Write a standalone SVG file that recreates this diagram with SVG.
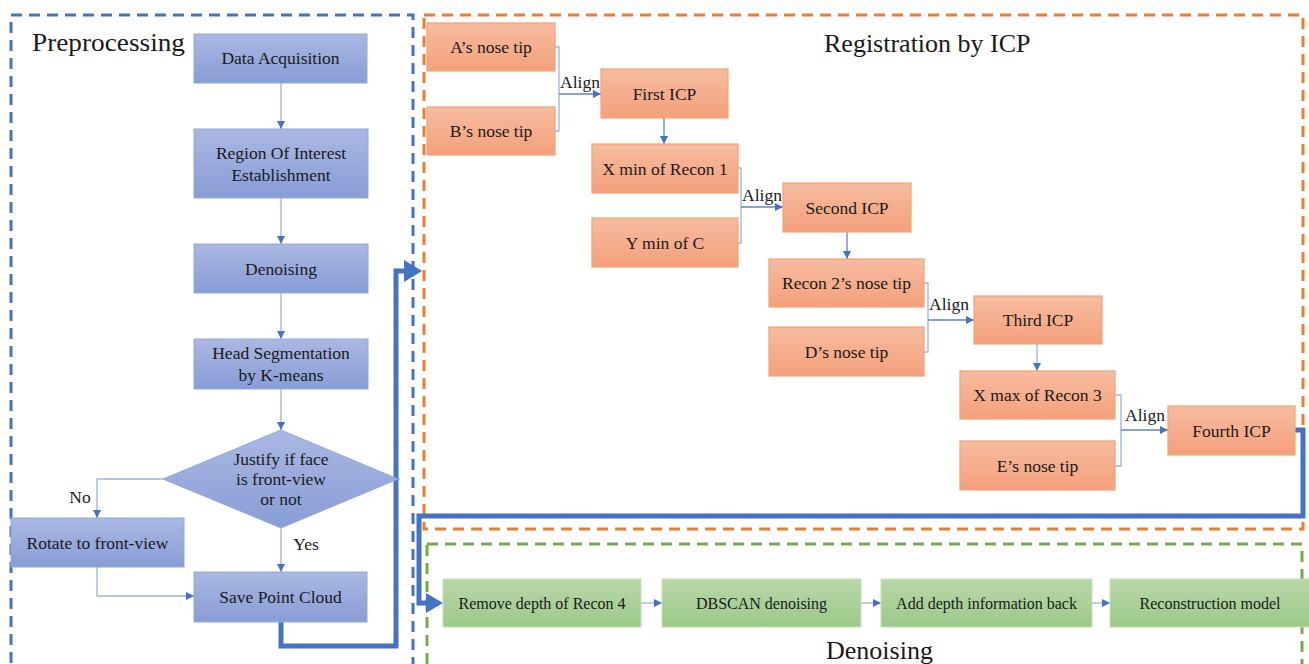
<svg xmlns="http://www.w3.org/2000/svg" width="1309" height="664" viewBox="0 0 1309 664">
<defs>
<linearGradient id="gBlue" x1="0" y1="0" x2="0" y2="1"><stop offset="0" stop-color="#aab8e3"/><stop offset="1" stop-color="#889dd6"/></linearGradient>
<linearGradient id="gOrange" x1="0" y1="0" x2="0" y2="1"><stop offset="0" stop-color="#f6bca0"/><stop offset="1" stop-color="#f4a07b"/></linearGradient>
<linearGradient id="gGreen" x1="0" y1="0" x2="0" y2="1"><stop offset="0" stop-color="#b8d8a8"/><stop offset="1" stop-color="#9dc98a"/></linearGradient>
<marker id="ah" viewBox="0 0 10 10" refX="10" refY="5" markerWidth="8" markerHeight="8" markerUnits="userSpaceOnUse" orient="auto"><path d="M0,0 L10,5 L0,10 z" fill="#4472c4"/></marker>
</defs>
<style>
text{font-family:"Liberation Serif","Times New Roman",serif;fill:#1a1a1a}
.t{font-size:17.5px;text-anchor:middle}
.tg{font-size:16px;text-anchor:middle}
.title{font-size:26px}
.nb{fill:url(#gBlue);stroke:#8eaadb;stroke-width:1}
.no{fill:url(#gOrange);stroke:#f4a275;stroke-width:1.2}
.ng{fill:url(#gGreen);stroke:#c5e0b4;stroke-width:1}
.frame{fill:none;stroke-width:3;stroke-dasharray:11 7}
.c{fill:none;stroke:#9db3e2;stroke-width:1.3}
.cd{fill:none;stroke:#5b86d0;stroke-width:1.3}
.thick{fill:none;stroke:#4472c4;stroke-width:5}
</style>
<rect width="1309" height="664" fill="#ffffff"/>
<g id="frames">
<rect class="frame" x="11" y="15" width="402" height="660" stroke="#4472c4"/>
<rect class="frame" x="424" y="15" width="879" height="514" stroke="#ed7d31"/>
<rect class="frame" x="427" y="544" width="875" height="130" stroke="#70ad47"/>
</g>
<g id="titles">
<text class="title" x="32" y="51" textLength="153" lengthAdjust="spacingAndGlyphs">Preprocessing</text>
<text class="title" x="824" y="52">Registration by ICP</text>
<text class="title" x="826" y="659">Denoising</text>
</g>
<g id="connectors">
<path class="c" d="M281,83 V129" marker-end="url(#ah)"/>
<path class="c" d="M281,198 V244" marker-end="url(#ah)"/>
<path class="c" d="M281,293 V339" marker-end="url(#ah)"/>
<path class="c" d="M281,389 V430" marker-end="url(#ah)"/>
<path class="c" d="M281,528 V572" marker-end="url(#ah)"/>
<path class="c" d="M163,479 H97 V518" marker-end="url(#ah)"/>
<path class="c" d="M97,567 V596 H194" marker-end="url(#ah)"/>
<path class="c" d="M393,479 H400"/>
<path class="c" d="M555,47 H559 V131 H555"/>
<path class="cd" d="M559,94 H601" marker-end="url(#ah)"/>
<path class="cd" d="M664,118 V144" marker-end="url(#ah)"/>
<path class="c" d="M738,168 H741 V243 H738"/>
<path class="cd" d="M741,207 H783" marker-end="url(#ah)"/>
<path class="cd" d="M847,232 V259" marker-end="url(#ah)"/>
<path class="c" d="M924,283 H928 V352 H924"/>
<path class="cd" d="M928,320 H974" marker-end="url(#ah)"/>
<path class="c" d="M1037,344 V371" marker-end="url(#ah)"/>
<path class="c" d="M1115,395 H1121 V466 H1115"/>
<path class="cd" d="M1121,430 H1168" marker-end="url(#ah)"/>
<path class="c" d="M641,603 H662" marker-end="url(#ah)"/>
<path class="c" d="M861,603 H881" marker-end="url(#ah)"/>
<path class="c" d="M1092,603 H1110" marker-end="url(#ah)"/>
<path class="thick" d="M281,622 V646 H396 V271 H406"/>
<polygon points="404,260 422,271 404,282" fill="#4472c4"/>
<path class="thick" d="M1295,430 H1303 V516 H419 V603 H428"/>
<polygon points="426,593 443,603 426,613" fill="#4472c4"/>
<text class="t" x="580" y="88">Align</text>
<text class="t" x="762" y="201">Align</text>
<text class="t" x="949" y="310">Align</text>
<text class="t" x="1145" y="421">Align</text>
<text class="t" x="80" y="503">No</text>
<text class="t" x="306" y="550">Yes</text>
</g>
<g id="n-data"><rect class="nb" x="194" y="34" width="173" height="49"/><text class="t" x="280.5" y="64">Data Acquisition</text></g>
<g id="n-roi"><rect class="nb" x="194" y="129" width="174" height="69"/><text class="t" x="281" y="159">Region Of Interest</text><text class="t" x="281" y="181">Establishment</text></g>
<g id="n-denoise"><rect class="nb" x="194" y="244" width="174" height="49"/><text class="t" x="281" y="275">Denoising</text></g>
<g id="n-head"><rect class="nb" x="194" y="339" width="174" height="50"/><text class="t" x="281" y="359">Head Segmentation</text><text class="t" x="281" y="381">by K-means</text></g>
<g id="n-justify"><polygon class="nb" points="281,430 398,479 281,528 163,479"/><text class="t" x="281" y="465">Justify if face</text><text class="t" x="281" y="485">is front-view</text><text class="t" x="281" y="505">or not</text></g>
<g id="n-rotate"><rect class="nb" x="11" y="518" width="173" height="49"/><text class="t" x="97.5" y="549">Rotate to front-view</text></g>
<g id="n-save"><rect class="nb" x="194" y="572" width="173" height="50"/><text class="t" x="280.5" y="603">Save Point Cloud</text></g>
<g id="n-a"><rect class="no" x="427" y="23" width="128" height="48"/><text class="t" x="491" y="53">A’s nose tip</text></g>
<g id="n-b"><rect class="no" x="427" y="107" width="128" height="48"/><text class="t" x="491" y="137">B’s nose tip</text></g>
<g id="n-first"><rect class="no" x="601" y="69" width="127" height="49"/><text class="t" x="664.5" y="100">First ICP</text></g>
<g id="n-xmin"><rect class="no" x="592" y="144" width="146" height="49"/><text class="t" x="665" y="175">X min of Recon 1</text></g>
<g id="n-ymin"><rect class="no" x="592" y="218" width="146" height="49"/><text class="t" x="665" y="249">Y min of C</text></g>
<g id="n-second"><rect class="no" x="783" y="183" width="128" height="49"/><text class="t" x="847" y="214">Second ICP</text></g>
<g id="n-recon2"><rect class="no" x="769" y="259" width="155" height="48"/><text class="t" x="846.5" y="289">Recon 2’s nose tip</text></g>
<g id="n-d"><rect class="no" x="769" y="327" width="155" height="49"/><text class="t" x="846.5" y="358">D’s nose tip</text></g>
<g id="n-third"><rect class="no" x="974" y="296" width="128" height="48"/><text class="t" x="1038" y="326">Third ICP</text></g>
<g id="n-xmax"><rect class="no" x="960" y="371" width="155" height="48"/><text class="t" x="1037.5" y="401">X max of Recon 3</text></g>
<g id="n-e"><rect class="no" x="960" y="441" width="155" height="49"/><text class="t" x="1037.5" y="472">E’s nose tip</text></g>
<g id="n-fourth"><rect class="no" x="1168" y="406" width="127" height="49"/><text class="t" x="1231.5" y="437">Fourth ICP</text></g>
<g id="n-remove"><rect class="ng" x="443" y="579" width="198" height="48"/><text class="tg" x="542" y="609">Remove depth of Recon 4</text></g>
<g id="n-dbscan"><rect class="ng" x="662" y="579" width="199" height="48"/><text class="tg" x="761.5" y="609">DBSCAN denoising</text></g>
<g id="n-add"><rect class="ng" x="881" y="579" width="211" height="48"/><text class="tg" x="986.5" y="609">Add depth information back</text></g>
<g id="n-recon"><rect class="ng" x="1110" y="579" width="205" height="48"/><text class="tg" x="1210" y="609">Reconstruction model</text></g>
</svg>
